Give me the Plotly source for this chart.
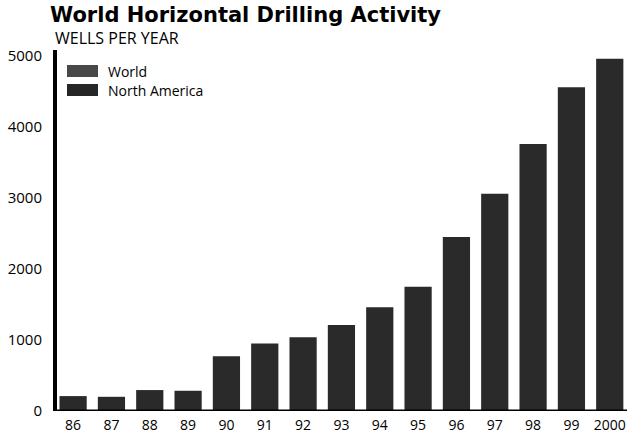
import plotly.graph_objects as go

years = ["86", "87", "88", "89", "90", "91", "92", "93", "94", "95", "96", "97", "98", "99", "2000"]
world_wells = [210, 200, 295, 285, 770, 950, 1040, 1210, 1460, 1750, 2450, 3060, 3760, 4560, 4960]
y_ticks = [0, 1000, 2000, 3000, 4000, 5000]
series_names = ["World", "North America"]
swatch_colors = ["#484848", "#262626"]

FONT = "Open Sans"
W, H = 627, 444
ML, MR, MT, MB = 57, 0, 50, 33
PW, PH = W - ML - MR, H - MT - MB


def px(p):
    return (p - ML) / PW


def py(p):
    return (H - MB - p) / PH


fig = go.Figure()
fig.add_trace(go.Bar(
    x=years, y=world_wells, name=series_names[0],
    marker=dict(color="#2a2a2a", line=dict(width=0)),
    showlegend=False,
))

fig.update_layout(
    width=W, height=H,
    margin=dict(l=ML, r=MR, t=MT, b=MB),
    paper_bgcolor="white", plot_bgcolor="white",
    bargap=0.29,
    font=dict(family=FONT, color="black", size=14),
    showlegend=False,
    xaxis=dict(
        type="category", range=[-0.42, 14.45],
        showgrid=False, zeroline=False, showline=False,
        ticks="", ticklabelstandoff=4,
        tickfont=dict(size=14, family=FONT, color="black"),
    ),
    yaxis=dict(
        range=[0, 5085], tickvals=y_ticks, ticktext=[str(v) for v in y_ticks],
        showgrid=False, zeroline=False,
        showline=True, linecolor="black", linewidth=4,
        ticks="", ticklabelstandoff=8,
        tickfont=dict(size=15, family=FONT, color="black"),
    ),
)

anns = [
    dict(text="<b>World Horizontal Drilling Activity</b>",
         x=px(48), y=py(15), xanchor="left", yanchor="middle",
         font=dict(size=21, family="DejaVu Sans", color="black")),
    dict(text="WELLS PER YEAR",
         x=px(53), y=py(38), xanchor="left", yanchor="middle",
         font=dict(size=16, family=FONT, color="black")),
]
legend_rows = [(65, 77, 71), (84, 96, 90)]
for name, col, (y0, y1, yc) in zip(series_names, swatch_colors, legend_rows):
    fig.add_shape(type="rect", xref="paper", yref="paper",
                  x0=px(67), x1=px(98), y0=py(y1), y1=py(y0),
                  fillcolor=col, line=dict(width=0))
    anns.append(dict(text=name, x=px(106), y=py(yc), xanchor="left", yanchor="middle",
                     font=dict(size=14, family=FONT, color="black")))
for a in anns:
    a.update(xref="paper", yref="paper", showarrow=False)
fig.update_layout(annotations=anns)

# baseline
fig.add_shape(type="line", xref="paper", yref="y", x0=0, x1=1, y0=0, y1=0,
              line=dict(color="black", width=3))

fig.write_html("out.html", config={"displayModeBar": False},
               post_script="document.body.style.margin='0px';")
